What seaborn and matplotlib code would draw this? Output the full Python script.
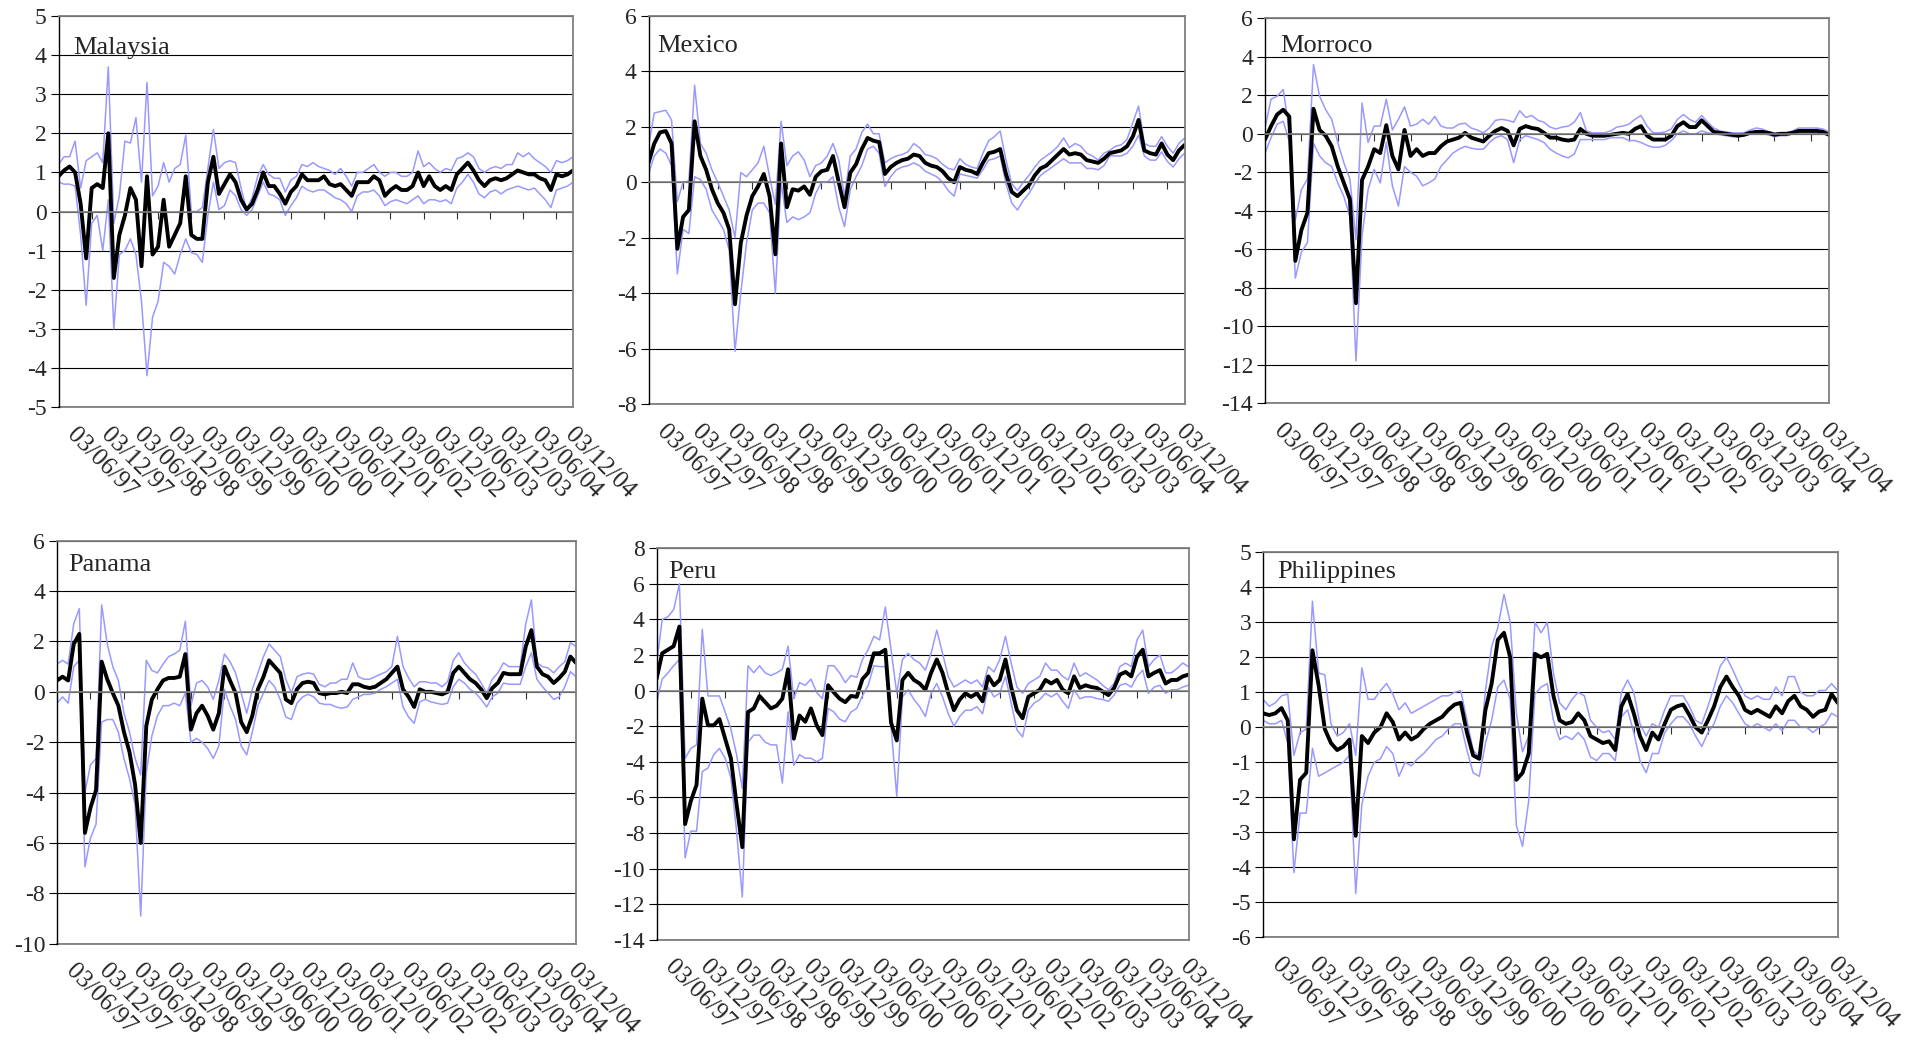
import numpy as np
import matplotlib
matplotlib.use("Agg")
import matplotlib.pyplot as plt
import matplotlib.transforms as mtransforms
import seaborn as sns

# --------------------------------------------------
# Data (monthly readings, 03/06/97 -> early 2005)
# --------------------------------------------------
date_labels = ["03/06/97", "03/12/97", "03/06/98", "03/12/98", "03/06/99", "03/12/99",
               "03/06/00", "03/12/00", "03/06/01", "03/12/01", "03/06/02", "03/12/02",
               "03/06/03", "03/12/03", "03/06/04", "03/12/04"]

malaysia_mid = [0.9, 1.05, 1.15, 1.0, 0.2, -1.2, 0.6, 0.7, 0.6, 2.0,
                -1.7, -0.6, -0.1, 0.6, 0.3, -1.4, 0.9, -1.1, -0.9, 0.3,
                -0.9, -0.6, -0.3, 0.9, -0.6, -0.7, -0.7, 0.75, 1.4, 0.45,
                0.7, 0.95, 0.75, 0.3, 0.05, 0.2, 0.55, 1.0, 0.65, 0.65,
                0.45, 0.2, 0.5, 0.65, 0.95, 0.8, 0.8, 0.8, 0.9, 0.7,
                0.65, 0.7, 0.55, 0.4, 0.75, 0.75, 0.75, 0.9, 0.8, 0.4,
                0.55, 0.65, 0.55, 0.55, 0.65, 1.0, 0.65, 0.9, 0.65, 0.55,
                0.65, 0.55, 0.95, 1.1, 1.25, 1.05, 0.8, 0.65, 0.8, 0.85,
                0.8, 0.85, 0.95, 1.05, 1.0, 0.95, 0.95, 0.85, 0.8, 0.55,
                0.95, 0.9, 0.95, 1.05]
malaysia_hi = [1.2, 1.4, 1.4, 1.8, 0.6, 1.3, 1.4, 1.5, 1.25, 3.7,
               -0.3, 0.4, 1.8, 1.75, 2.4, 0.75, 3.3, 0.4, 0.65, 1.25,
               0.75, 1.1, 1.2, 1.95, 0.0, 0.0, 0.1, 1.1, 2.1, 1.1,
               1.25, 1.3, 1.25, 0.6, 0.05, 0.35, 0.9, 1.2, 0.95, 0.85,
               0.85, 0.5, 0.8, 0.9, 1.2, 1.15, 1.25, 1.15, 1.1, 1.05,
               0.95, 1.1, 0.9, 0.65, 1.0, 1.0, 1.1, 1.2, 1.0, 0.9,
               1.0, 1.0, 0.9, 0.9, 1.0, 1.55, 1.15, 1.25, 1.1, 1.0,
               1.1, 1.05, 1.35, 1.4, 1.5, 1.4, 1.1, 1.0, 1.1, 1.15,
               1.1, 1.2, 1.2, 1.5, 1.4, 1.5, 1.35, 1.25, 1.15, 1.0,
               1.3, 1.25, 1.3, 1.4]
malaysia_lo = [0.75, 0.7, 0.7, 0.65, -0.6, -2.4, -0.3, -0.1, -1.0, 0.3,
               -3.0, -1.1, -1.0, -0.7, -1.1, -2.3, -4.2, -2.7, -2.3, -1.3,
               -1.4, -1.6, -1.1, -0.7, -1.05, -1.1, -1.3, -0.1, 0.75, 0.05,
               0.15, 0.55, 0.4, 0.05, -0.1, 0.05, 0.4, 0.75, 0.45, 0.4,
               0.3, -0.1, 0.15, 0.35, 0.65, 0.55, 0.5, 0.55, 0.55, 0.45,
               0.35, 0.3, 0.2, 0.0, 0.4, 0.5, 0.5, 0.55, 0.4, 0.15,
               0.25, 0.3, 0.25, 0.2, 0.3, 0.4, 0.2, 0.3, 0.3, 0.25,
               0.3, 0.2, 0.6, 0.75, 0.95, 0.75, 0.45, 0.35, 0.5, 0.55,
               0.45, 0.55, 0.6, 0.65, 0.6, 0.55, 0.6, 0.45, 0.3, 0.1,
               0.55, 0.6, 0.65, 0.75]

mexico_mid = [0.7, 1.4, 1.8, 1.85, 1.4, -2.4, -1.25, -1.0, 2.2, 0.95,
              0.45, -0.25, -0.75, -1.1, -1.7, -4.4, -2.2, -1.2, -0.5, -0.15,
              0.3, -0.5, -2.6, 1.4, -0.9, -0.25, -0.3, -0.15, -0.45, 0.2,
              0.4, 0.45, 0.95, 0.0, -0.9, 0.35, 0.65, 1.2, 1.6, 1.5,
              1.45, 0.3, 0.55, 0.7, 0.8, 0.85, 1.0, 0.95, 0.7, 0.6,
              0.55, 0.4, 0.15, 0.0, 0.55, 0.45, 0.4, 0.3, 0.7, 1.05,
              1.1, 1.2, 0.3, -0.35, -0.5, -0.3, -0.1, 0.25, 0.5, 0.6,
              0.8, 1.0, 1.2, 1.0, 1.05, 1.0, 0.8, 0.75, 0.7, 0.85,
              1.05, 1.1, 1.15, 1.3, 1.65, 2.25, 1.15, 1.05, 1.0, 1.4,
              1.0, 0.8, 1.15, 1.35]
mexico_hi = [1.3, 2.5, 2.55, 2.6, 2.25, -0.7, 0.0, 0.05, 3.5, 1.4,
             1.05, 0.45, 0.0, -0.5, -1.0, -2.0, 0.35, 0.2, 0.45, 0.7,
             1.3, 0.2, -0.8, 2.2, 0.6, 0.95, 1.1, 0.8, 0.2, 0.6,
             0.7, 0.95, 1.4, 0.8, -0.5, 0.95, 1.2, 1.8, 2.1, 1.75,
             1.75, 0.7, 0.85, 0.95, 1.0, 1.1, 1.4, 1.25, 1.0, 0.95,
             0.85, 0.65, 0.5, 0.45, 0.85, 0.65, 0.55, 0.5, 1.05, 1.5,
             1.65, 1.85, 0.8, -0.05, -0.3, 0.0, 0.25, 0.55, 0.8, 0.95,
             1.1, 1.3, 1.6, 1.25, 1.4, 1.3, 1.05, 0.95, 0.8, 1.05,
             1.15, 1.3, 1.35, 1.55, 2.15, 2.75, 1.4, 1.3, 1.3, 1.65,
             1.3, 1.05, 1.4, 1.6]
mexico_lo = [0.3, 0.95, 1.2, 1.05, 0.6, -3.3, -1.7, -1.85, 0.2, 0.1,
             -0.25, -1.0, -1.35, -1.7, -2.45, -6.1, -4.0, -2.2, -1.0, -0.75,
             -0.75, -1.1, -4.0, 0.0, -1.45, -1.25, -1.35, -1.25, -1.1, -0.4,
             0.0, 0.0, 0.2, -0.9, -1.6, -0.25, 0.2, 0.6, 1.2, 1.3,
             1.05, -0.15, 0.2, 0.45, 0.55, 0.6, 0.7, 0.6, 0.4, 0.3,
             0.2, 0.0, -0.3, -0.5, 0.3, 0.25, 0.2, 0.15, 0.45, 0.8,
             0.85, 0.95, -0.05, -0.75, -1.0, -0.65, -0.4, -0.05, 0.25, 0.4,
             0.55, 0.7, 0.85, 0.7, 0.7, 0.7, 0.5, 0.5, 0.45, 0.6,
             0.95, 0.95, 0.95, 1.05, 1.3, 1.7, 0.95, 0.8, 0.8, 1.1,
             0.75, 0.55, 0.85, 1.05]

morroco_mid = [-0.3, 0.4, 1.0, 1.25, 0.9, -6.6, -5.0, -4.1, 1.3, 0.2,
               -0.1, -0.65, -1.7, -2.55, -3.4, -8.8, -2.4, -1.7, -0.8, -1.0,
               0.45, -1.15, -1.85, 0.2, -1.15, -0.8, -1.15, -1.0, -1.0, -0.65,
               -0.4, -0.3, -0.2, 0.05, -0.2, -0.3, -0.4, -0.1, 0.15, 0.3,
               0.15, -0.6, 0.25, 0.4, 0.3, 0.25, 0.05, -0.2, -0.2, -0.3,
               -0.35, -0.3, 0.25, 0.0, -0.1, -0.1, -0.1, -0.05, 0.0, 0.05,
               0.0, 0.25, 0.4, -0.1, -0.3, -0.3, -0.3, -0.1, 0.4, 0.6,
               0.35, 0.35, 0.7, 0.4, 0.1, 0.05, 0.0, -0.05, -0.1, -0.05,
               0.05, 0.1, 0.1, 0.05, -0.05, 0.0, 0.0, 0.05, 0.15, 0.15,
               0.15, 0.15, 0.1, -0.05]
morroco_hi = [0.3, 1.8, 1.95, 2.3, 0.2, -4.5, -2.9, -2.35, 3.6, 1.95,
              1.25, 0.75, -0.45, -1.5, -2.35, -5.5, 1.6, -0.45, 0.4, 0.4,
              1.8, 0.2, 0.75, 1.4, 0.4, 0.5, 0.75, 0.5, 0.9, 0.4,
              0.3, 0.3, 0.5, 0.55, 0.3, 0.2, 0.05, 0.3, 0.7, 0.75,
              0.7, 0.6, 1.2, 0.85, 0.95, 0.7, 0.6, 0.35, 0.25, 0.35,
              0.4, 0.6, 1.1, 0.15, 0.05, 0.05, 0.05, 0.15, 0.35, 0.4,
              0.5, 0.75, 0.95, 0.4, 0.05, 0.05, 0.1, 0.25, 0.75, 1.0,
              0.75, 0.6, 0.95, 0.6, 0.3, 0.15, 0.1, 0.05, 0.05, 0.05,
              0.2, 0.3, 0.25, 0.1, 0.05, 0.05, 0.05, 0.15, 0.3, 0.3,
              0.3, 0.3, 0.25, 0.1]
morroco_lo = [-1.0, -0.2, 0.5, 0.65, -0.4, -7.5, -6.15, -5.65, -0.5, -1.15,
              -1.5, -1.7, -2.55, -3.25, -4.3, -11.8, -5.3, -2.9, -1.85, -2.55,
              -0.45, -2.7, -3.75, -1.7, -2.0, -2.2, -2.7, -2.55, -2.35, -1.7,
              -1.35, -1.0, -0.8, -0.65, -0.75, -0.8, -0.8, -0.45, -0.2, -0.1,
              -0.3, -1.5, -0.3, -0.1, -0.2, -0.3, -0.45, -0.8, -1.0, -1.15,
              -1.25, -1.05, -0.3, -0.3, -0.3, -0.3, -0.3, -0.2, -0.2, -0.2,
              -0.35, -0.35, -0.45, -0.6, -0.7, -0.7, -0.6, -0.35, 0.0, 0.15,
              0.0, 0.0, 0.15, 0.05, 0.0, -0.05, -0.1, -0.15, -0.15, -0.1,
              0.0, 0.0, 0.0, -0.05, -0.15, -0.1, -0.1, 0.0, 0.05, 0.05,
              0.05, 0.05, 0.0, -0.1]

panama_mid = [0.45, 0.6, 0.45, 1.9, 2.3, -5.6, -4.6, -3.9, 1.2, 0.5,
              -0.05, -0.55, -1.6, -2.4, -3.7, -6.0, -1.35, -0.3, 0.1, 0.45,
              0.55, 0.55, 0.6, 1.5, -1.5, -0.85, -0.55, -0.95, -1.5, -0.85,
              1.0, 0.45, -0.05, -1.2, -1.6, -0.95, 0.1, 0.6, 1.25, 1.0,
              0.75, -0.3, -0.45, 0.1, 0.35, 0.4, 0.35, -0.05, -0.1, -0.05,
              -0.05, 0.0, -0.05, 0.3, 0.3, 0.2, 0.15, 0.2, 0.35, 0.5,
              0.75, 1.0, 0.1, -0.2, -0.6, 0.1, 0.0, 0.0, -0.05, -0.1,
              0.0, 0.75, 1.0, 0.75, 0.5, 0.35, 0.1, -0.25, 0.15, 0.35,
              0.75, 0.7, 0.7, 0.7, 1.8, 2.45, 1.0, 0.7, 0.6, 0.35,
              0.55, 0.8, 1.4, 1.15]
panama_hi = [1.1, 1.25, 1.1, 2.7, 3.3, -4.0, -2.9, -2.65, 3.45, 1.9,
             1.0, 0.45, -0.85, -1.6, -2.65, -3.3, 1.25, 0.85, 0.75, 1.1,
             1.4, 1.5, 1.65, 2.8, -0.55, 0.35, 0.45, 0.2, -0.3, 0.45,
             1.5, 1.2, 0.75, -0.05, -0.85, 0.1, 0.75, 1.4, 1.9, 1.65,
             1.4, 0.5, -0.05, 0.6, 0.7, 0.75, 0.7, 0.3, 0.2, 0.35,
             0.35, 0.5, 0.5, 1.15, 0.6, 0.5, 0.5, 0.6, 0.7, 0.8,
             1.0, 2.2, 1.0, 0.55, 0.2, 0.4, 0.4, 0.35, 0.35, 0.2,
             0.4, 1.25, 1.55, 1.15, 0.9, 0.7, 0.35, -0.05, 0.5, 0.75,
             1.15, 1.0, 1.0, 1.0, 2.7, 3.65, 1.15, 1.0, 0.95, 0.75,
             1.0, 1.2, 1.95, 1.8]
panama_lo = [-0.45, -0.2, -0.45, 1.0, 1.25, -6.95, -5.8, -5.25, -1.2, -1.1,
             -1.1, -1.6, -2.65, -3.45, -4.5, -8.9, -3.2, -1.75, -0.95, -0.55,
             -0.55, -0.45, -0.55, -0.05, -2.0, -1.85, -2.0, -2.25, -2.65, -2.15,
             0.1, -0.55, -1.1, -2.15, -2.5, -1.6, -0.55, -0.05, 0.45, 0.2,
             -0.3, -1.0, -1.1, -0.45, -0.2, -0.1, -0.2, -0.45, -0.5, -0.5,
             -0.6, -0.65, -0.6, -0.3, -0.2, -0.1, -0.1, -0.05, 0.1, 0.2,
             0.35, 0.5, -0.6, -1.0, -1.25, -0.4, -0.3, -0.4, -0.45, -0.5,
             -0.45, 0.2, 0.5, 0.35, 0.1, -0.05, -0.3, -0.6, -0.2, -0.05,
             0.35, 0.3, 0.3, 0.3, 1.0, 1.55, 0.5, 0.2, -0.05, -0.3,
             -0.2, 0.2, 0.8, 0.6]

peru_mid = [0.65, 2.1, 2.3, 2.5, 3.6, -7.5, -6.2, -5.3, -0.45, -1.95,
            -1.95, -1.6, -2.7, -3.8, -6.4, -8.8, -1.2, -1.0, -0.3, -0.65,
            -1.0, -0.85, -0.45, 1.2, -2.7, -1.4, -1.75, -1.0, -1.95, -2.5,
            0.3, -0.1, -0.45, -0.65, -0.3, -0.35, 0.65, 1.0, 2.1, 2.1,
            2.3, -1.8, -2.8, 0.6, 1.0, 0.6, 0.4, 0.05, 1.0, 1.75,
            1.0, -0.15, -1.1, -0.5, -0.15, -0.35, -0.15, -0.6, 0.8, 0.3,
            0.6, 1.75, 0.2, -1.1, -1.55, -0.35, -0.15, 0.05, 0.6, 0.4,
            0.6, 0.05, -0.15, 0.8, 0.15, 0.3, 0.2, 0.15, -0.05, -0.25,
            0.15, 0.9, 1.05, 0.8, 1.9, 2.3, 0.8, 1.0, 1.15, 0.4,
            0.6, 0.6, 0.8, 0.9]
peru_hi = [1.5, 4.0, 4.15, 4.55, 6.0, -3.8, -3.25, -3.05, 3.45, -0.3,
           -0.3, -0.3, -1.2, -2.15, -3.6, -5.5, 1.4, 1.0, 1.4, 1.0,
           0.85, 1.0, 1.2, 2.5, -0.45, 0.45, 0.3, 0.65, -0.1, -0.45,
           1.4, 1.4, 1.0, 0.45, 0.85, 0.75, 1.75, 2.3, 3.05, 2.85,
           4.7, 2.3, -0.15, 1.75, 2.1, 1.75, 1.55, 1.15, 2.1, 3.4,
           2.1, 0.8, 0.2, 0.4, 0.6, 0.4, 0.6, 0.2, 1.35, 1.05,
           1.75, 3.05, 1.55, 0.2, -0.15, 0.4, 0.6, 0.8, 1.55, 1.15,
           1.15, 0.8, 0.6, 1.55, 0.8, 1.0, 0.8, 0.6, 0.3, 0.05,
           0.4, 1.35, 1.55, 1.35, 2.85, 3.4, 1.35, 1.75, 2.0, 1.0,
           1.0, 1.25, 1.55, 1.35]
peru_lo = [-0.65, 0.65, 1.0, 1.4, 1.75, -9.4, -7.9, -7.9, -4.55, -4.35,
           -3.6, -3.25, -3.8, -4.9, -7.9, -11.6, -2.9, -2.5, -2.5, -2.9,
           -3.05, -3.05, -5.2, -1.2, -4.2, -3.6, -3.8, -3.8, -4.0, -3.8,
           -1.0, -1.2, -1.6, -1.75, -1.2, -1.0, -0.3, 0.3, 1.4, 1.35,
           1.35, -2.0, -5.95, -0.35, 0.05, -0.5, -0.9, -1.45, -0.15, 0.4,
           -0.35, -1.3, -2.0, -1.45, -1.1, -1.1, -0.9, -1.3, 0.2, -0.35,
           -0.15, 0.8, -0.7, -2.2, -2.6, -1.1, -0.7, -0.5, -0.15, -0.35,
           -0.15, -0.6, -1.0, 0.05, -0.45, -0.35, -0.35, -0.45, -0.5, -0.6,
           -0.25, 0.3, 0.4, 0.2, 0.8, 1.15, -0.15, 0.2, 0.3, -0.15,
           0.05, 0.05, 0.2, 0.3]

philippines_mid = [0.4, 0.35, 0.4, 0.55, 0.2, -3.2, -1.5, -1.3, 2.2, 1.2,
                   -0.05, -0.45, -0.65, -0.55, -0.35, -3.1, -0.25, -0.45, -0.15, 0.0,
                   0.4, 0.15, -0.35, -0.15, -0.35, -0.25, -0.05, 0.1, 0.2, 0.3,
                   0.5, 0.65, 0.7, -0.15, -0.8, -0.9, 0.5, 1.25, 2.5, 2.7,
                   2.0, -1.5, -1.3, -0.75, 2.1, 2.0, 2.1, 0.9, 0.2, 0.1,
                   0.15, 0.4, 0.2, -0.25, -0.35, -0.45, -0.4, -0.65, 0.6, 0.95,
                   0.4, -0.25, -0.65, -0.15, -0.35, 0.1, 0.5, 0.6, 0.65, 0.35,
                   0.0, -0.15, 0.2, 0.6, 1.15, 1.45, 1.15, 0.9, 0.5, 0.4,
                   0.5, 0.4, 0.3, 0.6, 0.4, 0.75, 0.9, 0.6, 0.5, 0.3,
                   0.45, 0.5, 0.95, 0.7]
philippines_hi = [0.8, 0.6, 0.7, 0.9, 0.95, -0.8, -0.15, -0.05, 3.6, 1.55,
                  1.5, 0.1, -0.25, -0.15, 0.1, -0.8, 1.7, 0.8, 0.8, 1.05,
                  1.25, 0.95, 0.5, 0.7, 0.4, 0.5, 0.6, 0.7, 0.8, 0.9,
                  0.9, 1.0, 1.05, 0.2, -0.65, -0.85, 1.05, 2.3, 2.85, 3.8,
                  3.0, 0.4, -0.7, -0.25, 3.0, 2.7, 3.0, 1.55, 0.7, 0.5,
                  0.8, 1.0, 0.9, 0.2, 0.0, -0.15, -0.1, -0.35, 1.0, 1.35,
                  1.0, 0.1, -0.25, 0.1, 0.0, 0.5, 0.9, 0.9, 0.9, 0.6,
                  0.2, 0.1, 0.6, 1.15, 1.75, 2.0, 1.65, 1.25, 0.9, 0.8,
                  0.9, 0.8, 0.8, 1.15, 0.9, 1.45, 1.45, 1.0, 0.9, 0.9,
                  1.05, 1.05, 1.25, 1.05]
philippines_lo = [0.2, 0.1, 0.1, 0.2, -0.45, -4.15, -2.45, -2.45, -0.6, -1.4,
                  -1.3, -1.2, -1.1, -1.0, -0.8, -4.75, -2.2, -1.4, -1.0, -0.9,
                  -0.55, -0.75, -1.4, -1.0, -1.1, -0.9, -0.75, -0.55, -0.35, -0.25,
                  -0.05, 0.1, 0.1, -0.65, -1.3, -1.4, -0.45, 0.2, 1.15, 1.35,
                  0.8, -2.8, -3.4, -2.1, 0.95, 1.15, 1.25, 0.2, -0.35, -0.25,
                  -0.35, -0.15, -0.35, -0.85, -0.95, -0.75, -0.75, -0.95, 0.3, 0.5,
                  -0.15, -0.95, -1.3, -0.75, -0.75, -0.15, 0.1, 0.3, 0.3, 0.1,
                  -0.25, -0.55, -0.15, 0.1, 0.6, 0.9, 0.7, 0.4, 0.1, 0.0,
                  0.1, 0.0, -0.1, 0.1, -0.1, 0.2, 0.2, 0.0, 0.0, -0.15,
                  0.0, 0.1, 0.4, 0.3]

# --------------------------------------------------
# Style / layout
# --------------------------------------------------
W, H = 1914, 1047
BAND = "#9999ff"
BORDER = "#808080"

sns.set_style("white")
plt.rcParams["font.family"] = ["Liberation Serif", "DejaVu Serif"]
plt.rcParams["axes.unicode_minus"] = False

# name, series, (ymin, ymax, step), box in px (left, top, right, bottom), title offset px
panels = [
    ("Malaysia", malaysia_mid, malaysia_hi, malaysia_lo, (-5, 5, 1), (58.5, 16, 573, 407), (15, 38)),
    ("Mexico", mexico_mid, mexico_hi, mexico_lo, (-8, 6, 2), (648.5, 16, 1184.7, 404), (9, 36)),
    ("Morroco", morroco_mid, morroco_hi, morroco_lo, (-14, 6, 2), (1265, 18.3, 1829, 403.3), (15, 34)),
    ("Panama", panama_mid, panama_hi, panama_lo, (-10, 6, 2), (57, 540.7, 576, 943.7), (11, 30)),
    ("Peru", peru_mid, peru_hi, peru_lo, (-14, 8, 2), (656.5, 548.3, 1188.5, 939.7), (12, 30)),
    ("Philippines", philippines_mid, philippines_hi, philippines_lo, (-6, 5, 1), (1263, 552.3, 1837.7, 937.3), (14, 26)),
]

fig = plt.figure(figsize=(W / 100, H / 100), dpi=100)
fig.patch.set_facecolor("white")
label_shift = mtransforms.ScaledTranslation(20 / 100, 0, fig.dpi_scale_trans)

for name, mid, hi, lo, (ymin, ymax, step), (l, t, r, b), (tx, ty) in panels:
    ax = fig.add_axes([l / W, 1 - b / H, (r - l) / W, (b - t) / H])
    months = np.arange(len(mid))
    tick_pos = months[::6][:len(date_labels)]

    sns.lineplot(x=months, y=hi, ax=ax, color=BAND, linewidth=1.1, legend=False)
    sns.lineplot(x=months, y=lo, ax=ax, color=BAND, linewidth=1.1, legend=False)
    sns.lineplot(x=months, y=mid, ax=ax, color="black", linewidth=2.8, legend=False)

    ax.set_xlim(0, len(mid) - 1)
    ax.set_ylim(ymin, ymax)
    ax.set_yticks(np.arange(ymin, ymax + 1, step))
    ax.set_xticks(tick_pos)
    ax.set_xlabel("")
    ax.set_ylabel("")
    ax.yaxis.grid(True, color="black", linewidth=0.8)
    ax.xaxis.grid(False)
    ax.set_axisbelow(True)

    # category axis crosses at zero
    ax.spines["bottom"].set_position(("data", 0))
    ax.spines["bottom"].set_color(BORDER)
    ax.spines["bottom"].set_linewidth(1.2)
    for side in ("top", "right"):
        ax.spines[side].set_color(BORDER)
        ax.spines[side].set_linewidth(1.3)
    ax.spines["left"].set_color("black")
    ax.spines["left"].set_linewidth(1.0)

    ax.tick_params(axis="x", bottom=True, top=False, labelbottom=False,
                   direction="out", length=5, width=0.8, color="#303030")
    ax.tick_params(axis="y", left=True, right=False, direction="out", length=6,
                   width=0.8, color="black", labelsize=17, pad=2.5)

    # date labels along the bottom edge
    sec = ax.secondary_xaxis("bottom")
    sec.set_ticks(tick_pos, labels=date_labels)
    sec.tick_params(length=0, pad=12, labelsize=18)
    sec.spines["bottom"].set_color(BORDER)
    sec.spines["bottom"].set_linewidth(1.3)
    for lbl in sec.get_xticklabels():
        lbl.set_rotation(-45)
        lbl.set_ha("left")
        lbl.set_va("top")
        lbl.set_rotation_mode("anchor")
        lbl.set_transform(lbl.get_transform() + label_shift)

    offset = mtransforms.ScaledTranslation(tx / 100, -ty / 100, fig.dpi_scale_trans)
    ax.text(0, 1, name, transform=ax.transAxes + offset, fontsize=19,
            ha="left", va="baseline")

fig.savefig("out.png", dpi=100, facecolor="white")
